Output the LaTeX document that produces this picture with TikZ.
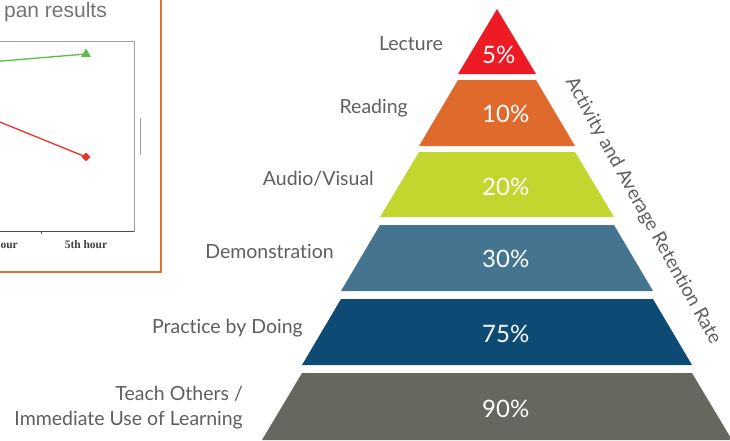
\documentclass[tikz,border=0pt]{standalone}
\usepackage{fontspec}
\setmainfont{Lato}[Ligatures={NoCommon,NoDiscretionary}]
\newfontfamily\chartsans{Liberation Sans}
\newfontfamily\chartserif{Liberation Serif}
\usepackage{tikz}
\usetikzlibrary{shapes.geometric}
\definecolor{labelgray}{HTML}{5E5E5E}
\definecolor{lecturered}{HTML}{ED1C24}
\definecolor{readorange}{HTML}{E06A2B}
\definecolor{avgreen}{HTML}{C3D62F}
\definecolor{demoblue}{HTML}{44748F}
\definecolor{practiceblue}{HTML}{0D4A74}
\definecolor{teachgray}{HTML}{676760}
\definecolor{chartorange}{HTML}{E2712F}
\definecolor{chartgreen}{HTML}{5DBB46}
\definecolor{chartred}{HTML}{E8322A}
\definecolor{framegray}{HTML}{A0A0A0}
\definecolor{titlegray}{HTML}{747474}

\begin{document}
\begin{tikzpicture}[x=1pt,y=-1pt,
    lbl/.style={anchor=base east,inner sep=0pt,text=labelgray,font=\fontsize{19.5}{25}\selectfont},
    pct/.style={anchor=base west,inner sep=0pt,text=white,font=\fontsize{24}{28}\selectfont},
    greenmark/.style={regular polygon,regular polygon sides=3,fill=chartgreen,inner sep=0pt,minimum size=11pt},
    redmark/.style={diamond,fill=chartred,inner sep=0pt,minimum size=9pt}]
    \useasboundingbox (0,0) rectangle (730,440);

    \draw[chartorange,line width=2pt] (-10,-10) rectangle (161,272);
    \node[anchor=base east,inner sep=0pt,text=titlegray,font=\chartsans\fontsize{21}{25}\selectfont] (title) at (107,17.5) {pan results};
    \draw[framegray,line width=1pt] (-10,41) rectangle (134,231);
    \draw[black!70,line width=1pt] (-10,231) -- (134,231);
    \draw[black!70,line width=1pt] (41,231) -- (41,234);
    \coordinate (g0) at (-10,62);
    \node[greenmark] (g5) at (86,54) {};
    \coordinate (r0) at (-10,118);
    \node[redmark] (r5) at (86,157) {};
    \draw[chartgreen,line width=1.3pt] (g0) -- (g5.center);
    \draw[chartred,line width=1.3pt] (r0) -- (r5.center);
    \node[anchor=base east,inner sep=0pt,font=\chartserif\bfseries\fontsize{11.5}{13}\selectfont,text=black!75] (hour1) at (18,248) {our};
    \node[anchor=base,inner sep=0pt,font=\chartserif\bfseries\fontsize{11.5}{13}\selectfont,text=black!75] (hour5) at (86,248) {5th hour};
    \draw[framegray] (140,118) -- (140,155);

    \fill[lecturered] (497,9) -- (536,74) -- (458,74) -- cycle;
    \fill[readorange] (458,80) -- (536,80) -- (575,146) -- (419,146) -- cycle;
    \fill[avgreen] (419,152) -- (575,152) -- (614,217) -- (380,217) -- cycle;
    \fill[demoblue] (380,225) -- (614,225) -- (653,291) -- (341,291) -- cycle;
    \fill[practiceblue] (341,299) -- (653,299) -- (692,365) -- (302,365) -- cycle;
    \fill[teachgray] (302,373) -- (692,373) -- (732,440) -- (262,440) -- cycle;

    \node[pct] (p1) at (482,63) {5\%};
    \node[pct] (p2) at (482,122) {10\%};
    \node[pct] (p3) at (482,195) {20\%};
    \node[pct] (p4) at (482,267) {30\%};
    \node[pct] (p5) at (482,342) {75\%};
    \node[pct] (p6) at (482,417) {90\%};

    \node[lbl] (lecture) at (443,50) {Lecture};
    \node[lbl] (reading) at (408,113) {Reading};
    \node[lbl] (audio) at (374,185) {Audio/Visual};
    \node[lbl] (demo) at (334,258) {Demonstration};
    \node[lbl] (practice) at (303,333) {Practice by Doing};
    \node[lbl,align=right] (teach) at (243,425) {Teach Others /\\Immediate Use of Learning};

    \node[rotate=-61,inner sep=0pt,text=labelgray,font=\fontsize{19}{24}\selectfont] (rate) at (643,211) {Activity and Average Retention Rate};
\end{tikzpicture}
\end{document}
